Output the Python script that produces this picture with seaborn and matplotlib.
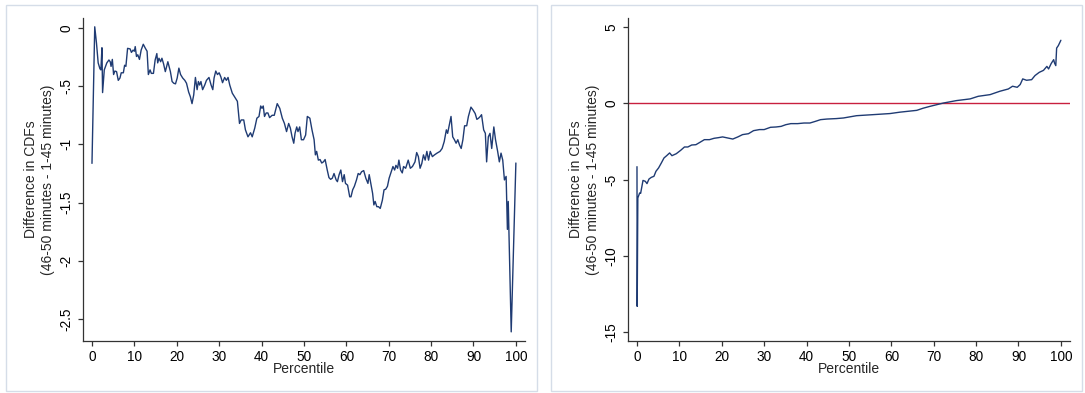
import matplotlib
matplotlib.use("Agg")
import matplotlib.pyplot as plt
from matplotlib.patches import Rectangle
import seaborn as sns
import pandas as pd

# Panel A: difference in CDFs by percentile
pct_a = [0, 0.65, 1.06, 1.46, 1.87, 2.1, 2.35, 2.5, 2.9, 3.5, 4.0, 4.3, 4.5, 4.8, 5.1, 5.4, 5.8,
         6.2, 6.6, 6.9, 7.4, 7.7, 8.0, 8.4, 9.0, 9.3, 9.7, 10.0, 10.2, 10.5, 10.8, 11.2, 11.6,
         12.1, 12.6, 13.0, 13.3, 13.7, 14.0, 14.5, 14.9, 15.3, 15.5, 15.8, 16.2, 16.5, 16.9,
         17.3, 17.9, 18.5, 18.9, 19.3, 19.7, 20.1, 20.5, 20.9, 21.4, 21.9, 22.3, 22.8, 23.2,
         23.6, 24.0, 24.4, 24.8, 25.1, 25.4, 25.7, 26.1, 26.6, 27.0, 27.6, 28.1, 28.5, 28.8,
         29.2, 29.6, 30.0, 30.4, 30.8, 31.3, 31.7, 32.1, 32.5, 33.1, 33.8, 34.3, 34.8, 35.2,
         35.8, 36.2, 36.8, 37.4, 37.8, 38.4, 38.9, 39.4, 39.8, 40.1, 40.4, 40.7, 41.1, 41.5,
         41.9, 42.5, 43.0, 43.7, 44.3, 44.9, 45.4, 45.9, 46.4, 46.8, 47.2, 47.6, 47.9, 48.3,
         48.6, 49.0, 49.4, 49.9, 50.4, 50.8, 51.4, 51.9, 52.4, 52.7, 53.0, 53.4, 53.8, 54.2,
         54.6, 55.0, 55.5, 55.9, 56.3, 56.7, 57.1, 57.6, 57.9, 58.3, 58.7, 59.1, 59.5, 59.8,
         60.3, 60.8, 61.1, 61.5, 61.9, 62.4, 62.8, 63.2, 63.6, 64.1, 64.6, 65.1, 65.4, 65.9,
         66.2, 66.5, 66.8, 67.2, 67.6, 68.0, 68.5, 68.9, 69.3, 69.7, 70.1, 70.6, 71.0, 71.4,
         71.7, 72.1, 72.4, 72.8, 73.2, 73.5, 74.0, 74.6, 75.1, 75.6, 76.2, 76.6, 77.0, 77.4,
         77.8, 78.2, 78.6, 79.0, 79.4, 79.8, 80.3, 80.8, 81.4, 82.1, 82.6, 83.1, 83.6, 83.9,
         84.3, 84.7, 85.1, 85.5, 85.9, 86.3, 86.7, 87.1, 87.5, 87.9, 88.4, 88.8, 89.4, 89.9,
         90.4, 90.8, 91.2, 91.6, 91.9, 92.4, 92.8, 93.1, 93.5, 93.9, 94.3, 94.8, 95.2, 95.7,
         96.1, 96.5, 96.9, 97.3, 97.7, 98.0, 98.2, 98.9, 100]
diff_a = [-1.163, 0.01, -0.13, -0.30, -0.35, -0.36, -0.17, -0.555, -0.36, -0.30, -0.275, -0.29,
          -0.33, -0.27, -0.40, -0.37, -0.375, -0.45, -0.43, -0.385, -0.385, -0.32, -0.33, -0.175,
          -0.18, -0.21, -0.19, -0.20, -0.16, -0.245, -0.23, -0.27, -0.19, -0.14, -0.175, -0.20,
          -0.40, -0.36, -0.39, -0.39, -0.275, -0.22, -0.30, -0.26, -0.29, -0.26, -0.31, -0.375,
          -0.29, -0.375, -0.46, -0.475, -0.48, -0.43, -0.345, -0.40, -0.43, -0.45, -0.475, -0.55,
          -0.59, -0.65, -0.575, -0.425, -0.53, -0.46, -0.49, -0.46, -0.53, -0.49, -0.45, -0.425,
          -0.49, -0.53, -0.43, -0.37, -0.40, -0.385, -0.42, -0.47, -0.425, -0.45, -0.425, -0.49,
          -0.56, -0.60, -0.63, -0.82, -0.79, -0.79, -0.875, -0.935, -0.90, -0.935, -0.86, -0.775,
          -0.76, -0.67, -0.69, -0.67, -0.76, -0.73, -0.73, -0.77, -0.75, -0.75, -0.65, -0.69,
          -0.775, -0.82, -0.89, -0.82, -0.86, -0.935, -0.99, -0.905, -0.85, -0.89, -0.85, -0.96,
          -0.96, -0.92, -0.76, -0.775, -0.875, -0.96, -1.09, -1.06, -1.135, -1.13, -1.16, -1.15,
          -1.13, -1.22, -1.285, -1.30, -1.29, -1.25, -1.305, -1.32, -1.26, -1.22, -1.32, -1.26,
          -1.335, -1.35, -1.45, -1.45, -1.39, -1.36, -1.305, -1.25, -1.26, -1.235, -1.225, -1.29,
          -1.335, -1.26, -1.36, -1.42, -1.52, -1.49, -1.535, -1.535, -1.55, -1.48, -1.39, -1.385,
          -1.36, -1.29, -1.235, -1.19, -1.22, -1.18, -1.205, -1.135, -1.22, -1.245, -1.19, -1.205,
          -1.135, -1.205, -1.19, -1.15, -1.07, -1.105, -1.205, -1.165, -1.09, -1.135, -1.06,
          -1.135, -1.06, -1.105, -1.09, -1.075, -1.06, -1.035, -0.975, -0.875, -0.905, -0.83,
          -0.76, -0.935, -0.96, -0.99, -0.96, -1.005, -1.035, -0.96, -0.84, -0.84, -0.76, -0.68,
          -0.705, -0.735, -0.785, -0.775, -0.76, -0.745, -0.875, -0.905, -1.15, -0.935, -0.905,
          -1.035, -0.85, -0.96, -1.06, -1.15, -1.075, -1.135, -1.305, -1.275, -1.73, -1.49,
          -2.61, -1.16]

# Panel B: difference in CDFs by percentile
pct_b = [0, 0.05, 0.2, 0.63, 0.86, 1.42, 1.97, 2.36, 2.83, 3.38, 4.0, 4.48, 5.1, 5.74, 6.37, 7.0,
         7.7, 8.25, 9.27, 10.3, 11.2, 12.0, 12.9, 13.9, 15.0, 15.9, 17.1, 18.2, 19.2, 20.2, 21.4,
         22.6, 23.8, 24.9, 26.3, 27.5, 28.9, 30.0, 31.5, 32.8, 34.0, 35.1, 36.3, 37.9, 39.4,
         40.8, 42.1, 43.3, 44.8, 47.0, 48.7, 51.8, 55.8, 59.7, 62.0, 64.0, 66.0, 67.5, 69.1,
         72.3, 75.4, 78.6, 80.5, 83.3, 85.6, 87.6, 88.6, 89.7, 90.4, 91.0, 91.9, 93.1, 93.9,
         94.9, 95.9, 96.7, 97.1, 97.7, 98.3, 98.5, 98.8, 99.0, 99.4, 100]
diff_b = [-4.15, -13.3, -6.2, -5.87, -5.9, -5.05, -5.11, -5.26, -4.96, -4.85, -4.78, -4.45, -4.23,
          -3.91, -3.58, -3.43, -3.25, -3.43, -3.30, -3.08, -2.86, -2.86, -2.73, -2.71, -2.53,
          -2.38, -2.38, -2.29, -2.25, -2.20, -2.27, -2.34, -2.20, -2.05, -1.99, -1.79, -1.72,
          -1.72, -1.57, -1.55, -1.51, -1.40, -1.33, -1.33, -1.29, -1.29, -1.18, -1.07, -1.03,
          -1.0, -0.96, -0.81, -0.74, -0.67, -0.58, -0.52, -0.46, -0.32, -0.20, 0.02, 0.18, 0.29,
          0.46, 0.57, 0.79, 0.94, 1.12, 1.05, 1.23, 1.60, 1.51, 1.55, 1.82, 2.03, 2.16, 2.42,
          2.25, 2.6, 2.86, 2.64, 2.47, 3.62, 3.78, 4.13]

x_ticks = [0, 10, 20, 30, 40, 50, 60, 70, 80, 90, 100]
y_ticks_a = [0, -0.5, -1, -1.5, -2, -2.5]
y_labels_a = ["0", "-.5", "-1", "-1.5", "-2", "-2.5"]
y_ticks_b = [5, 0, -5, -10, -15]
y_labels_b = ["5", "0", "-5", "-10", "-15"]

x_title = "Percentile"
y_title = "Difference in CDFs\n(46-50 minutes - 1-45 minutes)"

sns.set_style("ticks")
plt.rcParams["font.family"] = ["Liberation Sans", "DejaVu Sans"]

LINE = "#1f3b73"
RED = "#c8203f"
SPINE = "#333333"
FRAME = "#d5dde8"

W, H = 1085, 393
fig = plt.figure(figsize=(W / 100, H / 100), dpi=100)
fig.patch.set_facecolor("white")

# light frames around each panel
for x0, x1 in [(6, 537), (551, 1082)]:
    fig.add_artist(Rectangle((x0 / W, 1 - 391 / H), (x1 - x0) / W, (391 - 5) / H,
                             transform=fig.transFigure, fill=False,
                             edgecolor=FRAME, linewidth=1.0))


def make_axes(left_px):
    return fig.add_axes([left_px / W, 1 - 340.7 / H, 442.5 / W, (340.7 - 18.3) / H])


def style(ax, yticks, ylabels, ylim):
    ax.set_xlim(-2.19, 102.2)
    ax.set_ylim(*ylim)
    ax.set_xticks(x_ticks)
    ax.set_xticklabels([str(t) for t in x_ticks])
    ax.set_yticks(yticks)
    ax.set_yticklabels(ylabels, rotation=90, va="center")
    ax.tick_params(axis="both", length=3.5, width=0.9, color=SPINE, labelsize=9.8,
                   labelcolor="black", pad=3)
    for side in ["top", "right"]:
        ax.spines[side].set_visible(False)
    for side in ["left", "bottom"]:
        ax.spines[side].set_color(SPINE)
        ax.spines[side].set_linewidth(0.9)
    ax.set_xlabel(x_title, fontsize=10, labelpad=0)
    ax.set_ylabel(y_title, fontsize=10, linespacing=1.3)
    ax.yaxis.set_label_coords(-0.062, 0.5)
    ax.xaxis.set_label_coords(0.5, -0.066)
    ax.grid(False)
    ax.set_facecolor("white")


ax1 = make_axes(82.7)
df_a = pd.DataFrame({"pct": pct_a, "diff": diff_a})
sns.lineplot(data=df_a, x="pct", y="diff", ax=ax1, color=LINE, linewidth=1.0,
             sort=False, estimator=None)
style(ax1, y_ticks_a, y_labels_a, (-2.686, 0.083))

ax2 = make_axes(627.7)
ax2.axhline(0, color=RED, linewidth=1.0, zorder=1)
df_b = pd.DataFrame({"pct": pct_b, "diff": diff_b})
sns.lineplot(data=df_b, x="pct", y="diff", ax=ax2, color=LINE, linewidth=1.0,
             sort=False, estimator=None, zorder=2)
style(ax2, y_ticks_b, y_labels_b, (-15.55, 5.57))

fig.savefig("out.png", dpi=100, facecolor="white")
